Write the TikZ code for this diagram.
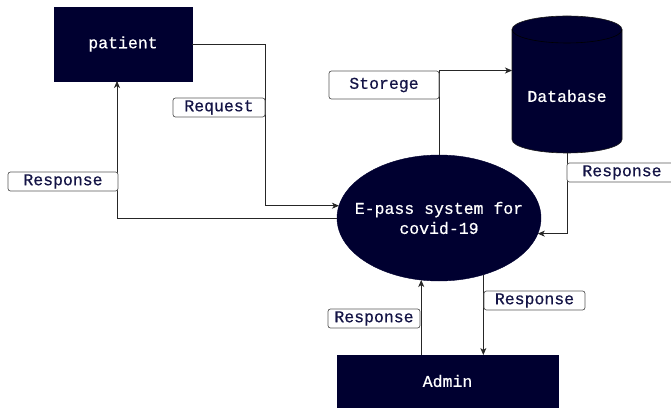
\documentclass[tikz,border=0pt]{standalone}
\usepackage{fontspec}
\setmonofont[FakeBold=0.6,BoldFont=Liberation Mono]{Liberation Mono}
\usetikzlibrary{arrows.meta,shapes.geometric,calc}
\definecolor{navy}{RGB}{0,0,48}
\definecolor{lbltext}{RGB}{20,20,70}
\begin{document}
\begin{tikzpicture}[x=1pt,y=1pt,
  every node/.style={font=\ttfamily\fontsize{16.5}{20}\selectfont},
  entity/.style={rectangle,fill=navy,draw=navy,text=white,inner sep=0pt,outer sep=0pt},
  proc/.style={ellipse,fill=navy,draw=navy,inner sep=0pt,outer sep=0pt},
  lbl/.style={rectangle,rounded corners=2.5pt,fill=white,draw=black!65,line width=0.7pt,text=lbltext,inner sep=0pt,outer sep=0pt,minimum height=19pt},
  arr/.style={draw=black!85,line width=0.8pt,-{Stealth[length=7pt,width=6pt,inset=2pt]}},
  ln/.style={draw=black!85,line width=0.8pt}]
\useasboundingbox (0,0) rectangle (671,407);
\fill[white] (0,0) rectangle (671,407);

% nodes
\node[entity,minimum width=138pt,minimum height=74pt] (patient) at (123,363) {patient};
\node[proc,minimum width=204pt,minimum height=126pt] (epass) at (439,189) {};
\node[text=white,align=center] (epasstext) at (439,189) {E-pass system for\\covid-19};
\node[entity,minimum width=221pt,minimum height=52pt] (admin) at (447.5,26) {Admin};

% database cylinder
\node[minimum width=110pt,minimum height=137pt,inner sep=0pt,outer sep=0pt] (db) at (567,322.5) {};
\fill[navy,draw=black!90,line width=0.6pt]
  ($(db.north west)+(0,-13.5)$) -- ($(db.south west)+(0,13.5)$)
  arc[start angle=180,end angle=360,x radius=55pt,y radius=13.5pt]
  -- ($(db.north east)+(0,-13.5)$)
  arc[start angle=0,end angle=180,x radius=55pt,y radius=13.5pt] -- cycle;
\draw[black,line width=0.6pt] ($(db.north west)+(0,-13.5)$)
  arc[start angle=180,end angle=360,x radius=55pt,y radius=13.5pt];
\node[text=white] (dbtext) at (567,311) {Database};

% connectors
\draw[arr] (patient.east) -- ++(73,0) |- (epass.173.2);
\draw[arr] (epass.west) -| ([xshift=-6pt]patient.south);
\draw[arr] (epass.north) |- ([yshift=14pt]db.west);
\draw[arr] (db.south) |- (epass.351.4);
\draw[arr] (admin.north -| epass.254.7) -- (epass.254.7);
\draw[arr] (epass.308.6) -- (epass.308.6 |- admin.north);

% labels
\node[lbl,minimum width=92pt] (lreq) at (219,299.5) {Request};
\node[lbl,minimum width=110pt] (lresp1) at (63,225.5) {Response};
\node[lbl,minimum width=110pt,minimum height=28pt] (lstor) at (384,322) {Storege};
\node[lbl,minimum width=110pt] (lresp2) at (622,234.5) {Response};
\node[lbl,minimum width=92pt] (lresp3) at (374,88.5) {Response};
\node[lbl,minimum width=101pt] (lresp4) at (534.5,106.5) {Response};
\end{tikzpicture}
\end{document}
